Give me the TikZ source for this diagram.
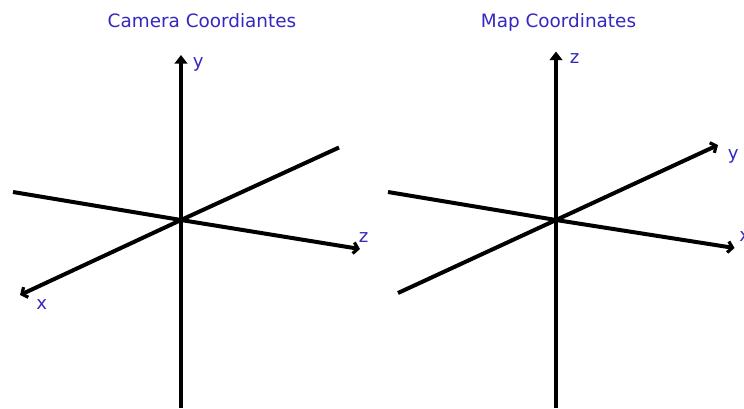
\documentclass[tikz,border=0pt]{standalone}
\usepackage{fontspec}
\setmainfont{DejaVu Sans}
\usetikzlibrary{arrows.meta}
\definecolor{lbl}{HTML}{3428BE}
\tikzset{
 px/.style={x=0.75pt,y=-0.75pt},
 axis/.style={line width=3pt,black},
 vaxis/.style={line width=3.4pt,black},
 arrowed/.style={axis,-{Straight Barb[length=3.4pt,width=8.4pt,line width=2.4pt]}},
 varrowed/.style={vaxis,-{Triangle[length=6.5pt,width=9.5pt]}},
 lab/.style={text=lbl,font=\fontsize{13.6}{16}\selectfont,inner sep=0pt,anchor=base west},
 ttl/.style={text=lbl,font=\fontsize{13.8}{16}\selectfont,inner sep=0pt,anchor=base}
}
\begin{document}
\begin{tikzpicture}[px]
\useasboundingbox (0,0) rectangle (744,408);
\node[ttl] (t1) at (202,27) {Camera Coordiantes};
\node[ttl] (t2) at (558.5,27) {Map Coordinates};
% left
\coordinate (o1) at (181,220);
\coordinate (ybot1) at (181,408);
\coordinate (ytop1) at (181,55);
\coordinate (zend1) at (360,249);
\coordinate (zback1) at (13,192);
\coordinate (xend1) at (20,295);
\coordinate (xback1) at (339,147.5);
\draw[vaxis] (ybot1) -- (o1);
\draw[varrowed] (o1) -- (ytop1);
\draw[axis] (zback1) -- (o1);
\draw[arrowed] (o1) -- (zend1);
\draw[axis] (xback1) -- (o1);
\draw[arrowed] (o1) -- (xend1);
\node[lab] (ly1) at (192.5,67) {y};
\node[lab] (lz1) at (358.5,242) {z};
\node[lab] (lx1) at (36,309) {x};
% right
\coordinate (o2) at (556,220);
\coordinate (ybot2) at (556,408);
\coordinate (ytop2) at (556,51.5);
\coordinate (zend2) at (734.5,248);
\coordinate (zback2) at (388,192);
\coordinate (xend2) at (718,145);
\coordinate (xback2) at (398,293);
\draw[vaxis] (ybot2) -- (o2);
\draw[varrowed] (o2) -- (ytop2);
\draw[axis] (zback2) -- (o2);
\draw[arrowed] (o2) -- (zend2);
\draw[axis] (xback2) -- (o2);
\draw[arrowed] (o2) -- (xend2);
\node[lab] (ly2) at (569.5,63) {z};
\node[lab] (lz2) at (727.5,159) {y};
\node[lab] (lx2) at (739,241.5) {x};
\end{tikzpicture}
\end{document}
